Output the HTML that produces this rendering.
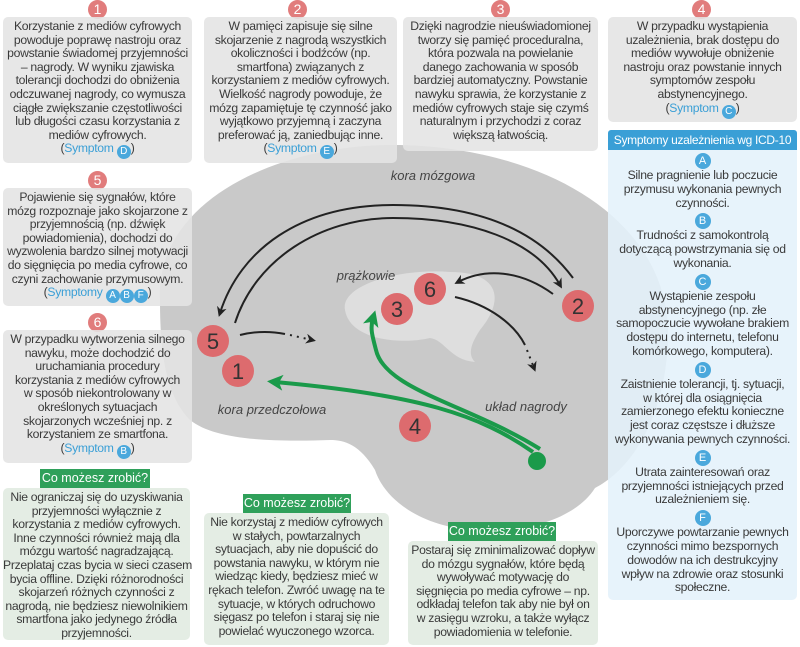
<!DOCTYPE html>
<html><head><meta charset="utf-8"><style>
body{margin:0;width:800px;height:647px;background:#fff;position:relative;overflow:hidden;font-family:"Liberation Sans",sans-serif;color:#3a3a3a}
.b,.g,.p{text-align:center;font-size:12.2px;line-height:13.6px;white-space:nowrap;letter-spacing:-0.3px}
.b{position:absolute;background:rgba(228,228,228,0.88);border-radius:5px;padding-top:3px;box-sizing:border-box}
.n{position:absolute;width:19px;height:19px;border-radius:50%;background:#e17c7c;color:#fff;font-size:14px;line-height:19px;text-align:center}
.s{color:#3a9fd6}
.c{display:inline-block;width:14px;height:14px;border-radius:50%;background:#4aa8dc;color:#fff;font-size:10px;line-height:14px;text-align:center;vertical-align:-2px;letter-spacing:0}
.g{position:absolute;background:rgba(226,236,226,0.92);border-radius:5px;padding-top:3px;box-sizing:border-box}
.gl{position:absolute;background:#2fa05a;color:#fff;font-size:12.5px;line-height:19px;text-align:center;white-space:nowrap}
.p{position:absolute;left:608px;top:150px;width:189px;height:450px;background:rgba(228,241,250,0.88);border-radius:0 0 5px 5px;line-height:13.8px}
.p .c{width:16px;height:16px;line-height:16px;font-size:11px;margin:3px 0 0}
</style></head><body>
<svg width="800" height="647" style="position:absolute;left:0;top:0">
<defs>
<marker id="ak" markerWidth="10" markerHeight="10" refX="6" refY="5" orient="auto" markerUnits="userSpaceOnUse"><path d="M0,0 L10,5 L0,10 L3,5 Z" fill="#222"/></marker>
<marker id="ag" markerWidth="16" markerHeight="16" refX="8" refY="8" orient="auto" markerUnits="userSpaceOnUse"><path d="M0,0 L16,8 L0,16 L4,8 Z" fill="#1a9a4a"/></marker>
</defs>
<path d="M160,300 C155,200 280,143 400,145 C545,148 672,220 668,340 C665,420 630,470 595,488 C575,520 520,535 470,530 C420,525 385,500 375,470 C360,445 345,440 330,440 C270,442 215,440 190,420 C165,395 160,350 160,300 Z" fill="#c9c9c9"/>
<path d="M345,310 C340,285 400,268 450,272 C500,272 505,300 480,330 C470,345 468,355 475,362 C450,360 445,340 430,338 C400,345 350,340 345,310 Z" fill="#dedede"/>
<text x="433" y="180" font-size="13" font-style="italic" fill="#444" text-anchor="middle">kora mózgowa</text>
<text x="366" y="280" font-size="13" font-style="italic" fill="#444" text-anchor="middle">prążkowie</text>
<text x="272" y="414" font-size="13" font-style="italic" fill="#444" text-anchor="middle">kora przedczołowa</text>
<text x="526" y="411" font-size="13" font-style="italic" fill="#444" text-anchor="middle">układ nagrody</text>
<path d="M573,278 C530,220 460,205 393,205 C300,205 240,250 220,313" fill="none" stroke="#222" stroke-width="2" marker-end="url(#ak)"/>
<path d="M235,323 C255,260 320,218 393,218 C470,218 535,240 560,285" fill="none" stroke="#222" stroke-width="2" marker-end="url(#ak)"/>
<path d="M553,294 C520,270 485,268 458,282" fill="none" stroke="#222" stroke-width="2" marker-end="url(#ak)"/>
<path d="M455,297 C490,305 515,325 525,345" fill="none" stroke="#222" stroke-width="2"/>
<path d="M527,350 L534,368" fill="none" stroke="#222" stroke-width="2" stroke-dasharray="2,5" marker-end="url(#ak)"/>
<path d="M240,335 C260,330 275,332 285,334" fill="none" stroke="#222" stroke-width="2"/>
<path d="M290,335 L312,340" fill="none" stroke="#222" stroke-width="2" stroke-dasharray="2,5" marker-end="url(#ak)"/>
<path d="M533,452 C480,415 420,395 275,382" fill="none" stroke="#1a9a4a" stroke-width="4" marker-end="url(#ag)"/>
<path d="M540,449 C470,405 385,390 376,350 C372,335 370,328 373,318" fill="none" stroke="#1a9a4a" stroke-width="4" marker-end="url(#ag)"/>
<circle cx="537" cy="461" r="9" fill="#1a9a4a"/>
<g fill="#dd6b6e"><circle cx="213" cy="341" r="16"/><circle cx="238" cy="371" r="16"/><circle cx="397" cy="309" r="16"/><circle cx="430" cy="289" r="16"/><circle cx="578" cy="306" r="16"/><circle cx="415" cy="426" r="16"/></g>
<g font-size="22" fill="#333" text-anchor="middle"><text x="213" y="349">5</text><text x="238" y="379">1</text><text x="397" y="317">3</text><text x="430" y="297">6</text><text x="578" y="314">2</text><text x="415" y="434">4</text></g>
</svg>

<div class="n" style="left:88px;top:0px">1</div>
<div class="b" style="left:3px;top:17px;width:189px;height:146px">Korzystanie z mediów cyfrowych<br>powoduje poprawę nastroju oraz<br>powstanie świadomej przyjemności<br>– nagrody. W wyniku zjawiska<br>tolerancji dochodzi do obniżenia<br>odczuwanej nagrody, co wymusza<br>ciągłe zwiększanie częstotliwości<br>lub długości czasu korzystania z<br>mediów cyfrowych.<br>(<span class="s">Symptom</span> <span class="c">D</span>)</div>
<div class="n" style="left:288px;top:0px">2</div>
<div class="b" style="left:204px;top:17px;width:193px;height:146px">W pamięci zapisuje się silne<br>skojarzenie z nagrodą wszystkich<br>okoliczności i bodźców (np.<br>smartfona) związanych z<br>korzystaniem z mediów cyfrowych.<br>Wielkość nagrody powoduje, że<br>mózg zapamiętuje tę czynność jako<br>wyjątkowo przyjemną i zaczyna<br>preferować ją, zaniedbując inne.<br>(<span class="s">Symptom</span> <span class="c">E</span>)</div>
<div class="n" style="left:491px;top:0px">3</div>
<div class="b" style="left:403px;top:17px;width:195px;height:134px">Dzięki nagrodzie nieuświadomionej<br>tworzy się pamięć proceduralna,<br>która pozwala na powielanie<br>danego zachowania w sposób<br>bardziej automatyczny. Powstanie<br>nawyku sprawia, że korzystanie z<br>mediów cyfrowych staje się czymś<br>naturalnym i przychodzi z coraz<br>większą łatwością.</div>
<div class="n" style="left:692px;top:0px">4</div>
<div class="b" style="left:608px;top:17px;width:189px;height:105px">W przypadku wystąpienia<br>uzależnienia, brak dostępu do<br>mediów wywołuje obniżenie<br>nastroju oraz powstanie innych<br>symptomów zespołu<br>abstynencyjnego.<br>(<span class="s">Symptom</span> <span class="c">C</span>)</div>
<div style="position:absolute;left:608px;top:130px;width:189px;height:20px;background:#3a9fd6;color:#fff;font-size:12px;letter-spacing:-0.3px;line-height:20px;text-align:center;white-space:nowrap;border-radius:3px 3px 0 0">Symptomy uzależnienia wg ICD-10</div>
<div class="p"><span class="c">A</span><br>Silne pragnienie lub poczucie<br>przymusu wykonania pewnych<br>czynności.<br><span class="c">B</span><br>Trudności z samokontrolą<br>dotyczącą powstrzymania się od<br>wykonania.<br><span class="c">C</span><br>Wystąpienie zespołu<br>abstynencyjnego (np. złe<br>samopoczucie wywołane brakiem<br>dostępu do internetu, telefonu<br>komórkowego, komputera).<br><span class="c">D</span><br>Zaistnienie tolerancji, tj. sytuacji,<br>w której dla osiągnięcia<br>zamierzonego efektu konieczne<br>jest coraz częstsze i dłuższe<br>wykonywania pewnych czynności.<br><span class="c">E</span><br>Utrata zainteresowań oraz<br>przyjemności istniejących przed<br>uzależnieniem się.<br><span class="c">F</span><br>Uporczywe powtarzanie pewnych<br>czynności mimo bezspornych<br>dowodów na ich destrukcyjny<br>wpływ na zdrowie oraz stosunki<br>społeczne.</div>
<div class="n" style="left:88px;top:171px">5</div>
<div class="b" style="left:3px;top:188px;width:189px;height:118px">Pojawienie się sygnałów, które<br>mózg rozpoznaje jako skojarzone z<br>przyjemnością (np. dźwięk<br>powiadomienia), dochodzi do<br>wyzwolenia bardzo silnej motywacji<br>do sięgnięcia po media cyfrowe, co<br>czyni zachowanie przymusowym.<br>(<span class="s">Symptomy</span> <span class="c">A</span><span class="c">B</span><span class="c">F</span>)</div>
<div class="n" style="left:88px;top:313px">6</div>
<div class="b" style="left:3px;top:330px;width:189px;height:133px">W przypadku wytworzenia silnego<br>nawyku, może dochodzić do<br>uruchamiania procedury<br>korzystania z mediów cyfrowych<br>w sposób niekontrolowany w<br>określonych sytuacjach<br>skojarzonych wcześniej np. z<br>korzystaniem ze smartfona.<br>(<span class="s">Symptom</span> <span class="c">B</span>)</div>
<div class="gl" style="left:40px;top:469px;width:110px">Co możesz zrobić?</div>
<div class="g" style="left:3px;top:488px;width:187px;height:152px">Nie ograniczaj się do uzyskiwania<br>przyjemności wyłącznie z<br>korzystania z mediów cyfrowych.<br>Inne czynności również mają dla<br>mózgu wartość nagradzającą.<br>Przeplataj czas bycia w sieci czasem<br>bycia offline. Dzięki różnorodności<br>skojarzeń różnych czynności z<br>nagrodą, nie będziesz niewolnikiem<br>smartfona jako jedynego źródła<br>przyjemności.</div>
<div class="gl" style="left:243px;top:494px;width:108px">Co możesz zrobić?</div>
<div class="g" style="left:204px;top:513px;width:185px;height:132px">Nie korzystaj z mediów cyfrowych<br>w stałych, powtarzalnych<br>sytuacjach, aby nie dopuścić do<br>powstania nawyku, w którym nie<br>wiedząc kiedy, będziesz mieć w<br>rękach telefon. Zwróć uwagę na te<br>sytuacje, w których odruchowo<br>sięgasz po telefon i staraj się nie<br>powielać wyuczonego wzorca.</div>
<div class="gl" style="left:448px;top:522px;width:108px">Co możesz zrobić?</div>
<div class="g" style="left:408px;top:541px;width:190px;height:104px">Postaraj się zminimalizować dopływ<br>do mózgu sygnałów, które będą<br>wywoływać motywację do<br>sięgnięcia po media cyfrowe – np.<br>odkładaj telefon tak aby nie był on<br>w zasięgu wzroku, a także wyłącz<br>powiadomienia w telefonie.</div>
</body></html>
